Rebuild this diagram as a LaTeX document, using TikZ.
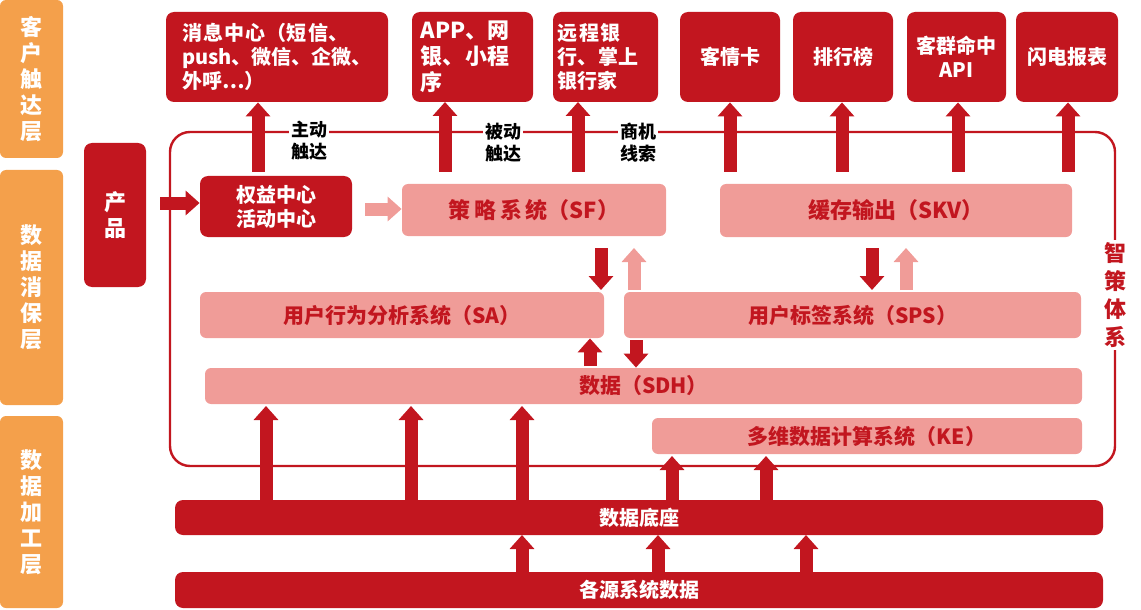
\documentclass[tikz,border=0pt]{standalone}
\usepackage{fontspec}
\setmainfont{Noto Sans CJK SC}
\XeTeXlinebreaklocale "zh"
\XeTeXlinebreakskip=0pt plus 1pt
\usetikzlibrary{arrows.meta}
\definecolor{dred}{HTML}{C2161F}
\definecolor{pnk}{HTML}{F09C98}
\definecolor{org}{HTML}{F4A04B}
\tikzset{
  layer/.style={draw=none,fill=org,rounded corners=3,text=white,font=\bfseries\fontsize{11}{13}\selectfont,
    align=center,text width=12},
  dbox/.style={fill=dred,rounded corners=4,text=white,font=\bfseries\fontsize{10}{12}\selectfont,align=center},
  pbox/.style={fill=pnk,rounded corners=3,text=dred,font=\bfseries\fontsize{10.5}{12}\selectfont,align=center},
  uparr/.style={dred,line width=6.5pt,-{Triangle[width=12pt,length=7pt]}},
  lparr/.style={pnk,line width=6.5pt,-{Triangle[width=12pt,length=7pt]}},
  lab/.style={font=\bfseries\fontsize{9}{11}\selectfont,align=center,fill=white,inner sep=1pt}
}
\newcommand{\bx}[6]{\node[#1,minimum width=#4*0.5pt-#2*0.5pt,minimum height=#5*0.5pt-#3*0.5pt,inner sep=0pt] (#6) at ({(#2+#4)/2},{(#3+#5)/2})}
\begin{document}
\begin{tikzpicture}[x=0.5pt,y=-0.5pt]
\useasboundingbox (0,0) rectangle (1141,610);
% layers
\bx{layer}{0}{0}{63}{158}{l1} {客户触达层};
\bx{layer}{0}{170}{63}{405}{l2} {数据消保层};
\bx{layer}{0}{416}{63}{608}{l3} {数据加工层};
\bx{dbox,font=\bfseries\fontsize{11}{13}\selectfont,text width=12}{84}{143}{146}{287}{cp} {产品};
% frame
\draw[dred,line width=1.2pt,rounded corners=10] (170,132) rectangle (1115,466);
\node[lab,font=\bfseries\fontsize{11}{14}\selectfont,text width=12,text=dred] (zc) at (1115,295) {智策体系};
% top
\bx{dbox,text width=95,align=left}{166}{12}{388}{102}{t1} {消息中心（短信、push、微信、企微、外呼…）};
\bx{dbox,text width=52,align=left,font=\bfseries\fontsize{11}{13}\selectfont}{412}{12}{533}{102}{t2} {APP、网银、小程序};
\bx{dbox,text width=48,align=left}{553}{12}{658}{102}{t3} {远程银行、掌上银行家};
\bx{dbox}{680}{12}{780}{102}{t4} {客情卡};
\bx{dbox}{793}{12}{893}{102}{t5} {排行榜};
\bx{dbox}{907}{12}{1006}{102}{t6} {客群命中\\API};
\bx{dbox}{1016}{12}{1118}{102}{t7} {闪电报表};
\node[lab] (a1) at (309,141) {主动\\触达};
\node[lab] (a2) at (503,143) {被动\\触达};
\node[lab] (a3) at (638,143) {商机\\线索};
% middle
\bx{dbox}{200}{176}{352}{237}{qy} {权益中心\\活动中心};
\bx{pbox,font=\bfseries\fontsize{11}{13}\selectfont}{402}{184}{666}{236}{sf} {策\,略\,系\,统（SF）};
\bx{pbox,font=\bfseries\fontsize{11}{13}\selectfont}{720}{184}{1072}{237}{skv} {缓存输出（SKV）};
\bx{pbox}{200}{292}{604}{338}{sa} {用户行为分析系统（SA）};
\bx{pbox}{624}{292}{1081}{338}{sps} {用户标签系统（SPS）};
\bx{pbox}{205}{368}{1082}{404}{sdh} {数据（SDH）};
\bx{pbox}{652}{418}{1082}{454}{ke} {多维数据计算系统（KE）};
\bx{dbox}{175}{500}{1103}{535}{db} {数据底座};
\bx{dbox}{175}{572}{1103}{608}{src} {各源系统数据};
% arrows up to reach layer
\draw[uparr] (258,172) -- (258,0 |- t1.south);
\foreach \x in {445,578} \draw[uparr] (\x,172) -- (\x,102);
\draw[uparr] (730,172) -- (730,0 |- t4.south);
\draw[uparr] (842,172) -- (842,0 |- t5.south);
\draw[uparr] (958,172) -- (958,0 |- t6.south);
\draw[uparr] (1068,172) -- (1068,0 |- t7.south);
\draw[uparr] (160,203) -- (qy.west |- 0,203);
\draw[lparr] (365,209) -- (sf.west |- 0,209);
\draw[uparr] (601,248) -- (601,290);
\draw[lparr] (634,290) -- (634,248);
\draw[uparr] (872,248) -- (872,290);
\draw[lparr] (906,290) -- (906,248);
\draw[uparr] (590,366) -- (590,0 |- sa.south);
\draw[uparr] (636,340) -- (636,0 |- sdh.north);
\foreach \x in {266,411,522} \draw[uparr] (\x,0 |- db.north) -- (\x,406);
\foreach \x in {672,766} \draw[uparr] (\x,0 |- db.north) -- (\x,456);
\foreach \x in {522,658,806} \draw[uparr] (\x,0 |- src.north) -- (\x,535);
\end{tikzpicture}
\end{document}
